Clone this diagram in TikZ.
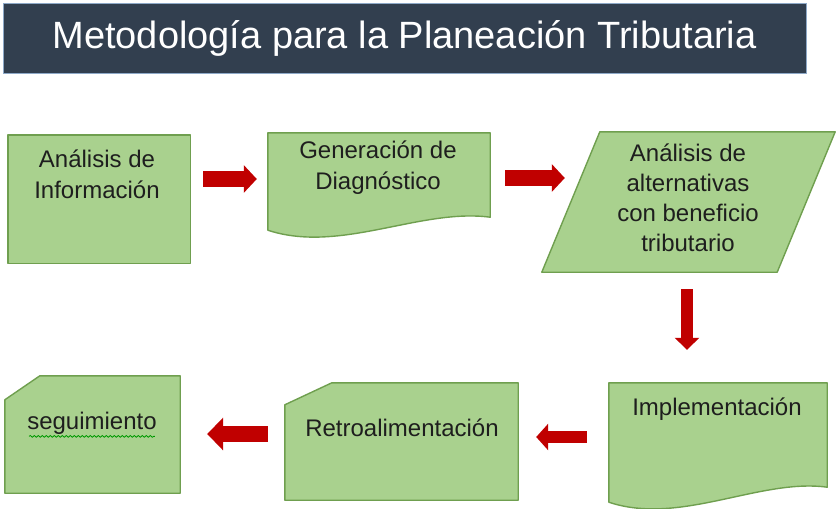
\documentclass[tikz,border=0pt]{standalone}
\usepackage{fontspec}
\setmainfont{Liberation Sans}
\usepackage{xcolor}
\usepackage{tikz}
\usetikzlibrary{arrows.meta}
\usetikzlibrary{positioning}
\usetikzlibrary{decorations.pathmorphing}

\definecolor{tituloazul}{HTML}{323F4F}
\definecolor{bordetitulo}{HTML}{8EA9C8}
\definecolor{verdepaso}{HTML}{A9D18E}
\definecolor{bordeverde}{HTML}{6F9F4F}
\definecolor{rojoflecha}{HTML}{C00000}
\definecolor{textopaso}{HTML}{1E1E1E}

\tikzset{
  pasobox/.style={rectangle, draw=none, inner sep=0pt},
  contorno/.style={draw=bordeverde, fill=verdepaso, line width=1.4pt,
    line join=round},
  pasotxt/.style={font=\fontsize{24}{31}\selectfont, text=textopaso,
    align=center, inner sep=0pt},
  flecha/.style={draw=rojoflecha, line width=#1,
    -{Triangle[width=27pt,length=13pt]}},
  flecha/.default=15pt
}

\begin{document}
\begin{tikzpicture}[x=1pt, y=-1pt]

    \useasboundingbox (0,0) rectangle (836,509);

    % titulo
    \node [pasobox, fill=tituloazul, draw=bordetitulo, line width=1pt,
      minimum width=803, minimum height=70] (titulo) at (404.5,38) {};
    \node [font=\fontsize{38}{44}\selectfont, text=white, inner sep=0pt]
      (titulotxt) at (titulo) {Metodología para la Planeación Tributaria};

    % cajas (medidas en px de la imagen)
    \node [pasobox, minimum width=182, minimum height=128] (info) at (99,199) {};
    \node [pasobox, minimum width=222, minimum height=97] (diag) at (379,181.5) {};
    \node [pasobox, minimum width=293, minimum height=140] (alt) at (688.5,202) {};
    \node [pasobox, minimum width=218, minimum height=119] (impl) at (718,442.5) {};
    \node [pasobox, minimum width=233, minimum height=117] (retro) at (401.5,441.5) {};
    \node [pasobox, minimum width=175, minimum height=117] (segui) at (92.5,434.5) {};

    \draw [contorno] (info.north west) rectangle (info.south east);

    \draw [contorno] (diag.south west) -- (diag.north west) -- (diag.north east)
      -- ([yshift=13pt]diag.south east)
      .. controls (420,208) and (340,254) .. (diag.south west) -- cycle;

    \draw [contorno] (alt.south west) -- ([xshift=58pt]alt.north west)
      -- (alt.north east) -- ([xshift=-58pt]alt.south east) -- cycle;

    \draw [contorno] (impl.south west) -- (impl.north west) -- (impl.north east)
      -- ([yshift=15pt]impl.south east)
      .. controls (760,478) and (680,526) .. (impl.south west) -- cycle;

    \draw [contorno] ([yshift=-22pt]retro.north west) -- ([xshift=47pt]retro.north west)
      -- (retro.north east) -- (retro.south east) -- (retro.south west) -- cycle;

    \draw [contorno] ([yshift=-24pt]segui.north west) -- ([xshift=35pt]segui.north west)
      -- (segui.north east) -- (segui.south east) -- (segui.south west) -- cycle;

    % textos
    \node [pasotxt] (infotxt) at (97,174) {Análisis de\\Información};
    \node [pasotxt] (diagtxt) at (378,168) {Generación de\\Diagnóstico};
    \node [pasotxt, font=\fontsize{24}{30}\selectfont] (alttxt) at (688,198)
      {Análisis de\\alternativas\\con beneficio\\tributario};
    \node [pasotxt] (impltxt) at (717,409) {Implementación};
    \node [pasotxt] (retrotxt) at (402,428) {Retroalimentación};
    \node [pasotxt] (seguitxt) at (92,423) {seguimiento};

    \draw [green!60!black, line width=0.8pt,
      decorate, decoration={snake, amplitude=0.9pt, segment length=4pt}]
      ([yshift=-2pt,xshift=2pt]seguitxt.south west)
      -- ([yshift=-2pt,xshift=-2pt]seguitxt.south east);

    % flechas
    \draw [flecha=16pt, shorten <=13pt, shorten >=11pt]
      ([yshift=20pt]info.east) -- ([yshift=20pt]info.east -| diag.west);
    \draw [flecha=16pt, shorten <=15pt, shorten >=-23pt]
      ([yshift=3.5pt]diag.east) -- ([yshift=3.5pt]diag.east -| alt.west);
    \draw [flecha=12pt, -{Triangle[width=24pt,length=12pt]},
      shorten <=17pt, shorten >=33pt]
      ([xshift=-1.5pt]alt.south) -- ([xshift=-1.5pt]alt.south |- impl.north);
    \draw [flecha=12pt, -{Triangle[width=26pt,length=12pt]},
      shorten <=22pt, shorten >=18pt]
      ([yshift=5.5pt]impl.west) -- ([yshift=5.5pt]impl.west -| retro.east);
    \draw [flecha=16pt, -{Triangle[width=32pt,length=16pt]},
      shorten <=17pt, shorten >=27pt]
      ([yshift=7.5pt]retro.west) -- ([yshift=7.5pt]retro.west -| segui.east);

  \end{tikzpicture}
\end{document}
